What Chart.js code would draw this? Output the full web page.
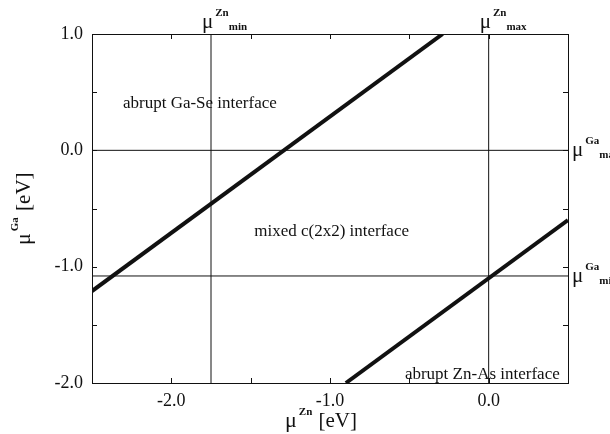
<!DOCTYPE html>
<html lang="en">
<head>
  <meta charset="UTF-8">
  <title>Interface phase diagram</title>
  <style>
    body {
      margin: 0;
      background: #fff;
    }
    #wrap {
      width: 610px;
      height: 434px;
    }
  </style>
  <script src="https://cdn.jsdelivr.net/npm/chart.js"></script>
</head>
<body>
  <div id="wrap"><canvas id="phaseChart"></canvas></div>
  <script>
    // axis ranges and ticks
    const xRange = [-2.5, 0.5];
    const yRange = [-2.0, 1.0];
    const xTickLabels = [-2.0, -1.0, 0.0];
    const yTickLabels = [1.0, 0.0, -1.0, -2.0];
    const xMinorTicks = [-2.0, -1.5, -1.0, -0.5, 0.0];
    const yMinorTicks = [0.5, 0.0, -0.5, -1.0, -1.5];

    // phase boundaries (x = mu Zn, y = mu Ga)
    const gaSeX = [-2.5, -0.29];
    const gaSeY = [-1.21, 1.0];
    const znAsX = [-0.9, 0.5];
    const znAsY = [-2.0, -0.6];

    // chemical potential limits
    const muZnLimits = [-1.75, 0.0];
    const muZnNames = ['min', 'max'];
    const muGaLimits = [0.0, -1.08];
    const muGaNames = ['max', 'min'];

    const regionNames = ['abrupt Ga-Se interface', 'mixed c(2x2) interface', 'abrupt Zn-As interface'];

    const serif = '"Liberation Serif", "DejaVu Serif", serif';
    const ink = '#111';

    function pts(xs, ys) {
      return xs.map((x, i) => ({ x: x, y: ys[i] }));
    }

    const datasets = [
      { data: pts(gaSeX, gaSeY), borderWidth: 4 },
      { data: pts(znAsX, znAsY), borderWidth: 4 }
    ];
    muZnLimits.forEach(v => datasets.push({ data: pts([v, v], yRange), borderWidth: 1 }));
    muGaLimits.forEach(v => datasets.push({ data: pts(xRange, [v, v]), borderWidth: 1 }));
    datasets.forEach(d => {
      d.showLine = true;
      d.pointRadius = 0;
      d.borderColor = ink;
      d.borderCapStyle = 'butt';
    });

    // mu with superscript element and subscript min/max
    function drawMu(ctx, x, y, sup, sub, big) {
      ctx.textAlign = 'left';
      ctx.textBaseline = 'alphabetic';
      ctx.font = big + 'px ' + serif;
      ctx.fillText('\u03bc', x, y);
      const w = ctx.measureText('\u03bc').width;
      ctx.font = 'bold 11px ' + serif;
      ctx.fillText(sup, x + w + 2, y - 12);
      const sw = ctx.measureText(sup).width;
      if (sub) {
        ctx.fillText(sub, x + w + sw + 2, y + 2);
      }
      return x + w + 2 + sw;
    }

    const annotate = {
      id: 'annotate',
      afterDraw(chart) {
        const ctx = chart.ctx;
        const a = chart.chartArea;
        const xs = chart.scales.x;
        const ys = chart.scales.y;
        ctx.save();
        ctx.strokeStyle = ink;
        ctx.fillStyle = ink;
        ctx.lineWidth = 1;
        ctx.strokeRect(a.left + 0.5, a.top + 0.5, a.right - a.left, a.bottom - a.top);

        // inward minor ticks
        ctx.beginPath();
        xMinorTicks.forEach(v => {
          const px = Math.round(xs.getPixelForValue(v)) + 0.5;
          ctx.moveTo(px, a.bottom); ctx.lineTo(px, a.bottom - 5);
          ctx.moveTo(px, a.top); ctx.lineTo(px, a.top + 5);
        });
        yMinorTicks.forEach(v => {
          const py = Math.round(ys.getPixelForValue(v)) + 0.5;
          ctx.moveTo(a.left, py); ctx.lineTo(a.left + 5, py);
          ctx.moveTo(a.right, py); ctx.lineTo(a.right - 5, py);
        });
        ctx.stroke();

        // region labels
        ctx.font = '17px ' + serif;
        ctx.textAlign = 'center';
        ctx.textBaseline = 'middle';
        const regionAt = [[-1.82, 0.40], [-0.99, -0.70], [-0.04, -1.93]];
        regionNames.forEach((t, i) => {
          ctx.fillText(t, xs.getPixelForValue(regionAt[i][0]), ys.getPixelForValue(regionAt[i][1]));
        });

        // limit labels
        muZnLimits.forEach((v, i) => {
          drawMu(ctx, xs.getPixelForValue(v) - 9, a.top - 6, 'Zn', muZnNames[i], 21);
        });
        muGaLimits.forEach((v, i) => {
          drawMu(ctx, a.right + 4, ys.getPixelForValue(v) + 6, 'Ga', muGaNames[i], 21);
        });

        // axis titles
        let end = drawMu(ctx, 285, 427, 'Zn', null, 22);
        ctx.font = '21px ' + serif;
        ctx.fillText(' [eV]', end + 1, 427);

        ctx.translate(30, 245);
        ctx.rotate(-Math.PI / 2);
        end = drawMu(ctx, 0, 0, 'Ga', null, 22);
        ctx.font = '21px ' + serif;
        ctx.fillText(' [eV]', end + 1, 0);
        ctx.restore();
      }
    };

    new Chart(document.getElementById('phaseChart'), {
      type: 'scatter',
      data: { datasets: datasets },
      options: {
        responsive: true,
        maintainAspectRatio: false,
        animation: false,
        layout: { padding: { top: 34, right: 42, left: 0, bottom: 0 } },
        plugins: {
          legend: { display: false },
          tooltip: { enabled: false }
        },
        scales: {
          x: {
            type: 'linear',
            min: xRange[0],
            max: xRange[1],
            afterBuildTicks: s => { s.ticks = xTickLabels.map(v => ({ value: v })); },
            afterFit: s => { s.height = 51; },
            grid: { display: false, drawTicks: false },
            border: { display: false },
            ticks: {
              color: ink,
              padding: 7,
              font: { family: serif, size: 18 },
              callback: v => v.toFixed(1)
            }
          },
          y: {
            type: 'linear',
            min: yRange[0],
            max: yRange[1],
            afterBuildTicks: s => { s.ticks = yTickLabels.map(v => ({ value: v })); },
            afterFit: s => { s.width = 92; },
            grid: { display: false, drawTicks: false },
            border: { display: false },
            ticks: {
              color: ink,
              padding: 9,
              font: { family: serif, size: 18 },
              callback: v => v.toFixed(1)
            }
          }
        }
      },
      plugins: [annotate]
    });
  </script>
</body>
</html>
